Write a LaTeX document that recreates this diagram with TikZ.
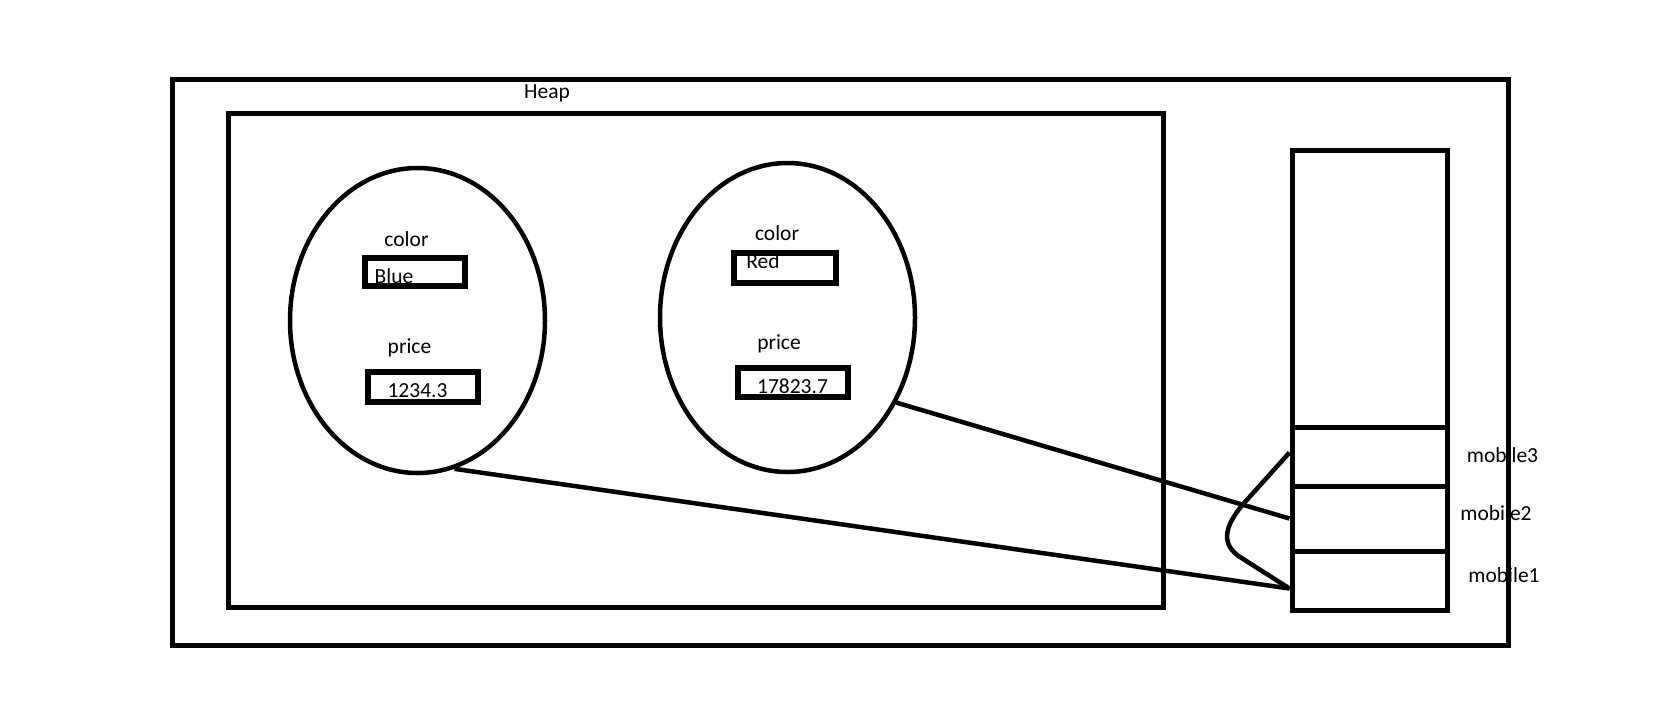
\documentclass[tikz,border=0pt]{standalone}
\usepackage{fontspec}
\setmainfont{Carlito}
\usetikzlibrary{shapes.geometric}

\begin{document}
\begin{tikzpicture}[x=1pt,y=-1pt,
    font=\fontsize{21.5}{25}\selectfont,
    box/.style={draw,line width=5pt,inner sep=0pt},
    obj/.style={draw,ellipse,line width=4.5pt,inner sep=0pt,minimum width=255pt},
    val/.style={draw,line width=5.5pt,inner sep=0pt},
    txt/.style={anchor=base,inner sep=0pt},
    link/.style={line width=4.5pt,line join=round}]

\useasboundingbox (0,0) rectangle (1665,716);

\node[box,minimum width=1336pt,minimum height=566pt] (mem) at (840,362) {};
\node[box,minimum width=935pt,minimum height=494pt] (heap) at (695.5,360) {};
\node[txt] (heaplbl) at (547,98) {Heap};

\node[obj,minimum height=305pt] (obj1) at (417.5,320.5) {};
\node[obj,minimum height=309pt] (obj2) at (787.5,317.5) {};

\node[txt] (color1) at (406.5,246) {color};
\node[val,minimum width=100pt,minimum height=28pt] (blue) at (415,272) {};
\node[txt] (bluetxt) at (394,283) {Blue};
\node[txt] (price1) at (409.5,353) {price};
\node[val,minimum width=110pt,minimum height=30pt] (pr1) at (423,387) {};
\node[txt] (pr1txt) at (417.5,397) {1234.3};

\node[txt] (color2) at (777,240) {color};
\node[val,minimum width=102pt,minimum height=30pt] (red) at (785,268) {};
\node[txt] (redtxt) at (763,268) {Red};
\node[txt] (price2) at (779,349) {price};
\node[val,minimum width=110pt,minimum height=29pt] (pr2) at (793,382.5) {};
\node[txt] (pr2txt) at (792.5,393) {17823.7};

\node[box,minimum width=155.5pt,minimum height=460pt] (stack) at (1369.75,380) {};
\foreach \n/\y/\h in {3/456.5/59,2/518.5/65,1/580.5/59}
{
    \node[box,minimum width=155.5pt,minimum height=\h pt] (s\n) at (1369.75,\y) {};
}

\node[txt] (lbl3) at (1502.5,462) {mobile3};
\node[txt] (lbl2) at (1496,520) {mobile2};
\node[txt] (lbl1) at (1504,582) {mobile1};

\coordinate (p1) at ([yshift=-8pt]s1.west);

\draw[link] (obj1.-76) -- (p1);
\draw[link] (obj2.-38) -- (s2.west);
\draw[link] ([yshift=4pt]s3.west) -- (1245,502) .. controls (1222,528) and (1222,545) .. (1240,557) -- (p1);

\end{tikzpicture}
\end{document}
